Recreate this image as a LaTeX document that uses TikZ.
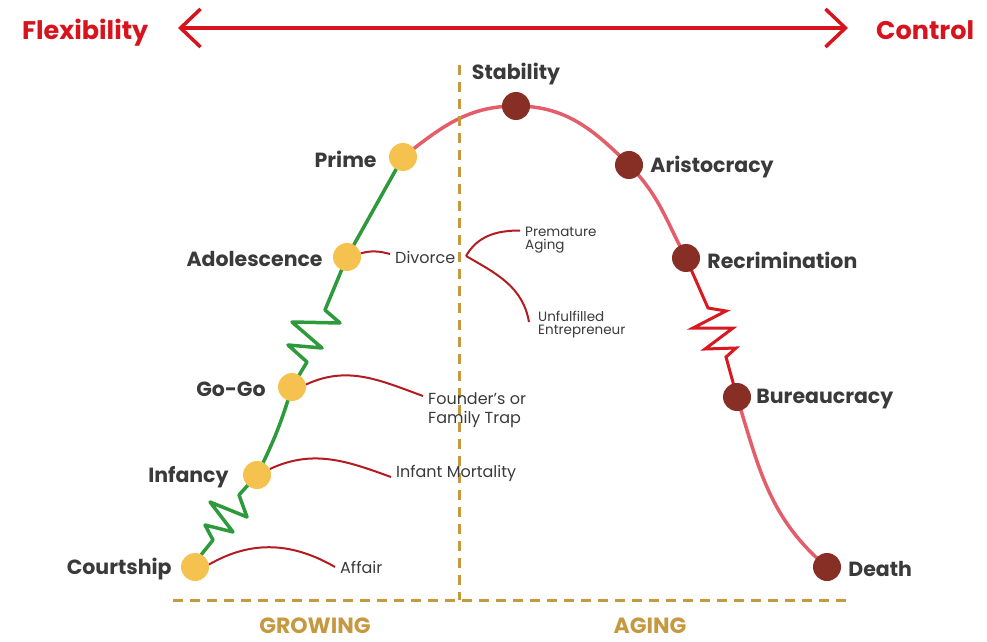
\documentclass[tikz,border=0pt]{standalone}
\usepackage{fontspec}
\setmainfont{Poppins}
\usetikzlibrary{positioning,arrows.meta}
\definecolor{labelgray}{HTML}{3A3A3A}
\definecolor{flexred}{HTML}{D7141E}
\definecolor{phasetan}{HTML}{C6983F}
\definecolor{growgreen}{HTML}{2D9A3B}
\definecolor{dotyellow}{HTML}{F6C24F}
\definecolor{dotbrown}{HTML}{872E25}
\definecolor{agepink}{HTML}{E35D6A}
\definecolor{zigred}{HTML}{D81920}
\definecolor{notered}{HTML}{B31B21}
\pgfdeclarelayer{bg}
\pgfsetlayers{bg,main}

\begin{document}
\begin{tikzpicture}[x=1pt,y=1pt,
	ydot/.style={circle,fill=dotyellow,minimum size=28pt,inner sep=0pt},
	rdot/.style={circle,fill=dotbrown,minimum size=28pt,inner sep=0pt},
	stagelbl/.style={font=\bfseries\fontsize{20.5}{20.5}\selectfont,text=labelgray,inner sep=0pt,yshift=-2pt},
	note/.style={font=\fontsize{16}{19}\selectfont,text=labelgray,inner ysep=0pt,inner xsep=5pt,align=left},
	smallnote/.style={note,font=\fontsize{13.5}{12.5}\selectfont},
	endlbl/.style={font=\bfseries\fontsize{25.5}{25.5}\selectfont,text=flexred,inner sep=0pt},
	phaselbl/.style={font=\bfseries\fontsize{22}{22}\selectfont,text=phasetan,inner sep=0pt},
	growline/.style={draw=growgreen,line width=3.5pt,line join=round},
	ageline/.style={draw=agepink,line width=3.5pt},
	agezig/.style={draw=zigred,line width=3pt,line join=miter},
	noteline/.style={draw=notered,line width=2pt},
	divider/.style={draw=phasetan,line width=3pt,dash pattern=on 10pt off 7pt}]
	\useasboundingbox (0,0) rectangle (987,641);
	% flexibility - control axis
	\node[endlbl,anchor=base west] (flex) at (22,601) {Flexibility};
	\node[endlbl,anchor=base west] (ctrl) at (876,601) {Control};
	\coordinate (axisL) at (178,613);
	\coordinate (axisR) at (848,613);
	\draw[flexred,line width=3.5pt,{Straight Barb[length=20pt,width=38pt]}-{Straight Barb[length=20pt,width=38pt]}] (axisL) -- (axisR);
	% phases
	\coordinate (divTop) at (459,576);
	\coordinate (divBot) at (459,41);
	\coordinate (baseL) at (173,41);
	\coordinate (baseR) at (850,41);
	\path[divider] (divTop) edge (divBot) (baseL) edge (baseR);
	\node[phaselbl] (growing) at (315,15) {GROWING};
	\node[phaselbl] (aging) at (650,15) {AGING};
	% stages
	\node[ydot] (courtship) at (195,74) {};
	\node[ydot] (infancy) at (257,166) {};
	\node[ydot] (gogo) at (292,254) {};
	\node[ydot] (adolescence) at (347,384) {};
	\node[ydot] (prime) at (403,484) {};
	\node[rdot] (stability) at (516,535) {};
	\node[rdot] (aristocracy) at (629,476) {};
	\node[rdot] (recrimination) at (686,383) {};
	\node[rdot] (bureaucracy) at (737,244) {};
	\node[rdot] (death) at (827,74) {};
	\node[stagelbl,left=9pt of courtship] (courtshipL) {Courtship};
	\node[stagelbl,left=14pt of infancy] (infancyL) {Infancy};
	\node[stagelbl,left=12pt of gogo] (gogoL) {Go-Go};
	\node[stagelbl,left=10pt of adolescence] (adolescenceL) {Adolescence};
	\node[stagelbl,left=12pt of prime] (primeL) {Prime};
	\node[stagelbl,yshift=2pt,above=7pt of stability] (stabilityL) {Stability};
	\node[stagelbl,right=7pt of aristocracy] (aristocracyL) {Aristocracy};
	\node[stagelbl,right=7pt of recrimination] (recriminationL) {Recrimination};
	\node[stagelbl,right=5pt of bureaucracy] (bureaucracyL) {Bureaucracy};
	\node[stagelbl,right=7pt of death] (deathL) {Death};
	% the curve
	\begin{pgfonlayer}{bg}
		\draw[growline] (courtship.center) -- (201,86) -- (213,101) -- (205,116) -- (233,109) -- (210,139) -- (247,124) -- (239,146) -- (infancy.center);
		\draw[growline] (infancy.center) to[bend right=5] (gogo.center) -- (307,279) -- (288,296) -- (322,293) -- (292,319) -- (340,318) -- (325,331) -- (adolescence.center) -- (prime.center);
		\draw[ageline] (prime.center) to[out=38,in=180] (stability.center) to[out=0,in=135] (aristocracy.center) to[out=-45,in=118] (recrimination.center);
		\draw[agezig] (recrimination.center) -- (708,333) -- (726,330) -- (693,313) -- (733,313) -- (705,292) -- (736,293) -- (726,284) -- (bureaucracy.center);
		\draw[ageline] (bureaucracy.center) to[out=-73,in=140] (death.center);
	\end{pgfonlayer}
	% traps
	\node[note,anchor=base west] (affair) at (335,68) {Affair};
	\node[note,anchor=base west] (infmort) at (391,164) {Infant Mortality};
	\node[note,anchor=north west] (trap) at (423,249) {Founder’s or\\Family Trap};
	\node[note,anchor=base west] (divorce) at (390,378) {Divorce};
	\node[smallnote,anchor=north west] (premature) at (520,414) {Premature\\Aging};
	\node[smallnote,anchor=north west] (unfulfilled) at (533,330) {Unfulfilled\\Entrepreneur};
	\coordinate (fork) at (466,385);
	\draw[noteline] (courtship.10) to[out=30,in=150] ([yshift=6pt]affair.base west);
	\draw[noteline] (infancy.25) to[out=25,in=160] (infmort.base west);
	\draw[noteline] (gogo.10) to[out=25,in=160] ([yshift=-4pt]trap.north west);
	\draw[noteline] (adolescence.15) to[out=15,in=165] ([yshift=9pt]divorce.base west);
	\draw[noteline] (fork) to[out=60,in=180] ([yshift=-3.5pt]premature.north west);
	\draw[noteline] (fork) to[out=-30,in=100] ([xshift=-4pt,yshift=-11pt]unfulfilled.north west);
\end{tikzpicture}
\end{document}
